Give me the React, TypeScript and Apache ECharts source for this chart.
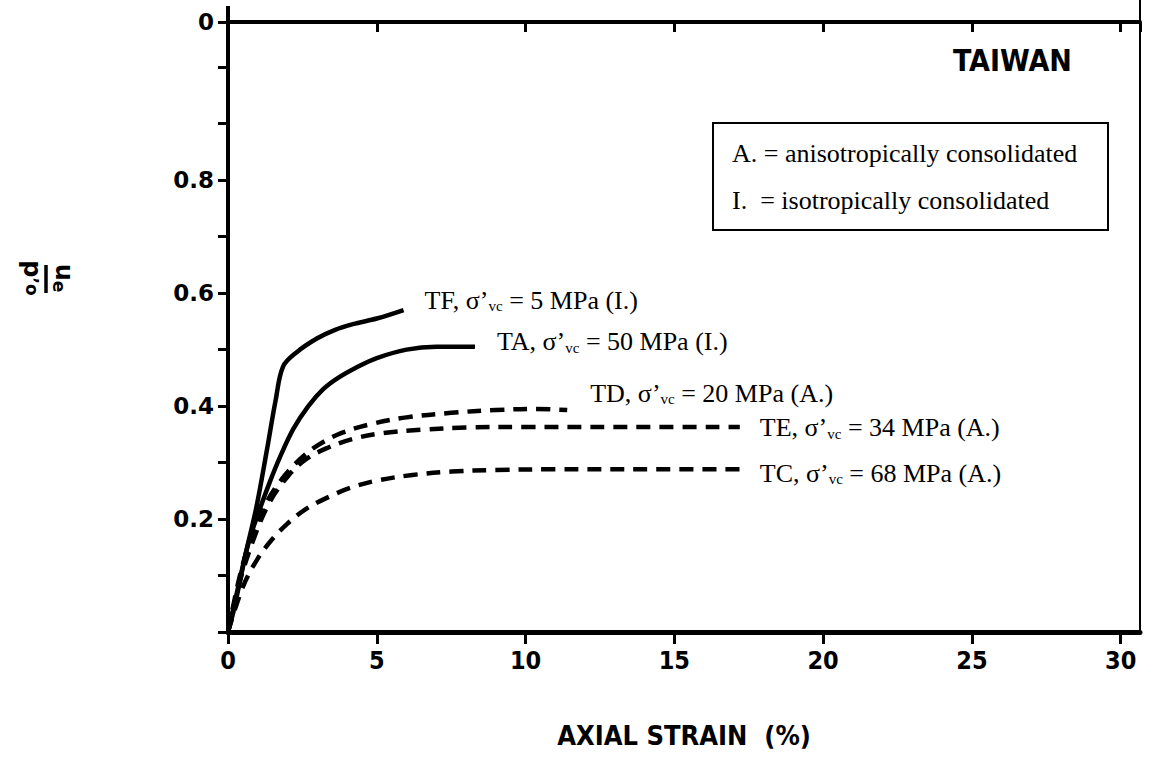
import React, { useEffect, useRef } from "react";
import * as echarts from "echarts";

// Axial strain (%) and normalised excess pore pressure ue/p'o for each test
const tfStrain = [0, 0.2, 0.6, 0.95, 1.3, 1.6, 1.85, 2.3, 3.0, 3.6, 4.2, 5.0, 5.9];
const tfPore = [0, 0.04, 0.14, 0.22, 0.32, 0.41, 0.47, 0.495, 0.52, 0.535, 0.545, 0.555, 0.57];

const taStrain = [0, 0.3, 0.7, 1.05, 1.4, 1.75, 2.2, 2.7, 3.2, 3.7, 4.3, 5.0, 6.0, 7.0, 8.3];
const taPore = [0, 0.07, 0.16, 0.215, 0.265, 0.31, 0.36, 0.4, 0.43, 0.45, 0.468, 0.485, 0.5, 0.505, 0.505];

const tdStrain = [0, 0.4, 0.8, 1.3, 1.8, 2.4, 3.0, 3.8, 4.8, 6.0, 7.5, 9.0, 10.3, 11.4];
const tdPore = [0, 0.1, 0.17, 0.23, 0.27, 0.305, 0.33, 0.352, 0.368, 0.38, 0.388, 0.393, 0.395, 0.393];

const teStrain = [0, 0.4, 0.9, 1.4, 2.0, 2.6, 3.3, 4.2, 5.2, 6.5, 8.0, 10, 13, 17.2];
const tePore = [0, 0.09, 0.17, 0.23, 0.275, 0.305, 0.325, 0.342, 0.352, 0.358, 0.362, 0.363, 0.363, 0.363];

const tcStrain = [0, 0.5, 1.0, 1.5, 2.0, 2.6, 3.3, 4.1, 5.0, 6.2, 7.5, 9.0, 11, 14, 17.2];
const tcPore = [0, 0.08, 0.13, 0.165, 0.192, 0.217, 0.237, 0.255, 0.268, 0.278, 0.284, 0.287, 0.288, 0.288, 0.288];

// Curve labels: [test, stress value, consolidation]
const tfLabel = ["TF", "5", "I."];
const taLabel = ["TA", "50", "I."];
const tdLabel = ["TD", "20", "A."];
const teLabel = ["TE", "34", "A."];
const tcLabel = ["TC", "68", "A."];

// Tick labels
const xTicks = [0, 5, 10, 15, 20, 25, 30];
const yTickLabels: Record<number, string> = { 2: "0.2", 4: "0.4", 6: "0.6", 8: "0.8" };
const topLeftLabel = "0";

const legendLines = ["A. = anisotropically consolidated", "I.  = isotropically consolidated"];
const siteName = "TAIWAN";

const X_MAX = 30.65;
const Y_MAX = 1.08;

const serif = "'Liberation Serif', 'Times New Roman', serif";
const tickFont = "'DejaVu Sans', 'Liberation Sans', sans-serif";
const narrowFont = "'Liberation Sans Narrow', 'DejaVu Sans Condensed', 'Liberation Sans', sans-serif";

function pairs(xs: number[], ys: number[]) {
  return xs.map((x, i) => [x, ys[i]]);
}

function curve(
  info: string[],
  xs: number[],
  ys: number[],
  dashed: boolean,
  offset: [number, number]
) {
  return {
    type: "line",
    name: info[0],
    data: pairs(xs, ys),
    smooth: 0.35,
    showSymbol: false,
    symbol: "none",
    lineStyle: {
      color: "#000",
      width: 4.5,
      type: dashed ? [14, 9] : "solid",
      cap: "butt",
    },
    endLabel: {
      show: true,
      distance: 0,
      offset,
      formatter: () => `${info[0]}, σ’{sub|vc} = ${info[1]} MPa (${info[2]})`,
      color: "#000",
      fontFamily: serif,
      fontSize: 26,
      rich: {
        sub: { fontFamily: serif, fontSize: 15, verticalAlign: "bottom", padding: [12, 0, 0, 0] },
      },
    },
  };
}

export default function App() {
  const ref = useRef<HTMLDivElement>(null);

  useEffect(() => {
    if (!ref.current) return;
    const chart = echarts.init(ref.current, undefined, { renderer: "svg" });

    const option: any = {
      animation: false,
      backgroundColor: "#fff",
      grid: { left: 228, right: 15, top: 22, bottom: 125, containLabel: false },
      xAxis: [
        {
          type: "value",
          min: 0,
          max: X_MAX,
          interval: 5,
          position: "bottom",
          name: "AXIAL STRAIN  (%)",
          nameLocation: "middle",
          nameGap: 90,
          nameTextStyle: { fontFamily: narrowFont, fontWeight: "bold", fontSize: 27, color: "#000" },
          axisLine: { show: true, onZero: false, lineStyle: { color: "#000", width: 5 } },
          axisTick: { show: true, inside: false, length: 12, lineStyle: { color: "#000", width: 3 } },
          axisLabel: {
            margin: 16,
            showMaxLabel: false,
            color: "#000",
            fontFamily: narrowFont,
            fontWeight: "bold",
            fontSize: 25,
            formatter: (v: number) => (xTicks.includes(v) ? String(v) : ""),
          },
          splitLine: { show: false },
        },
        {
          type: "value",
          min: 0,
          max: X_MAX,
          interval: 5,
          position: "top",
          axisLine: { show: true, onZero: false, lineStyle: { color: "#000", width: 4 } },
          axisTick: { show: true, inside: true, length: 10, lineStyle: { color: "#000", width: 3 } },
          axisLabel: { show: false },
          splitLine: { show: false },
        },
      ],
      yAxis: [
        {
          type: "value",
          min: 0,
          max: Y_MAX,
          interval: 0.1,
          position: "left",
          axisLine: { show: true, onZero: false, lineStyle: { color: "#000", width: 4 } },
          axisTick: { show: true, inside: false, length: 10, lineStyle: { color: "#000", width: 3 } },
          axisLabel: {
            margin: 14,
            color: "#000",
            fontFamily: tickFont,
            fontWeight: "bold",
            fontSize: 23,
            formatter: (v: number) => yTickLabels[Math.round(v * 10)] ?? "",
          },
          splitLine: { show: false },
        },
        {
          type: "value",
          min: 0,
          max: Y_MAX,
          position: "right",
          axisLine: { show: true, onZero: false, lineStyle: { color: "#000", width: 2 } },
          axisTick: { show: false },
          axisLabel: { show: false },
          splitLine: { show: false },
        },
      ],
      series: [
        curve(tfLabel, tfStrain, tfPore, false, [21, -10]),
        curve(taLabel, taStrain, taPore, false, [22, -5]),
        curve(tdLabel, tdStrain, tdPore, true, [23, -17]),
        curve(teLabel, teStrain, tePore, true, [20, 1]),
        curve(tcLabel, tcStrain, tcPore, true, [20, 4]),
      ],
      graphic: [
        // frame stubs rising above the top axis
        { type: "line", shape: { x1: 228, y1: 6, x2: 228, y2: 24 }, style: { stroke: "#000", lineWidth: 4 } },
        { type: "line", shape: { x1: 1140, y1: 0, x2: 1140, y2: 24 }, style: { stroke: "#000", lineWidth: 2 } },
        {
          type: "text",
          x: 214,
          y: 22,
          style: {
            text: topLeftLabel,
            align: "right",
            verticalAlign: "middle",
            fontFamily: tickFont,
            fontWeight: "bold",
            fontSize: 23,
            fill: "#000",
          },
        },
        {
          type: "text",
          x: 953,
          y: 60,
          style: {
            text: siteName,
            verticalAlign: "middle",
            fontFamily: narrowFont,
            fontWeight: "bold",
            fontSize: 30,
            fill: "#000",
          },
        },
        {
          type: "rect",
          shape: { x: 713, y: 123, width: 395, height: 107 },
          style: { fill: "#fff", stroke: "#000", lineWidth: 2 },
        },
        {
          type: "text",
          x: 732,
          y: 153,
          style: {
            text: legendLines[0],
            fontFamily: serif,
            fontSize: 26,
            fill: "#000",
            verticalAlign: "middle",
          },
        },
        {
          type: "text",
          x: 732,
          y: 200,
          style: {
            text: legendLines[1],
            fontFamily: serif,
            fontSize: 26,
            fill: "#000",
            verticalAlign: "middle",
          },
        },
        {
          // ue / p'o written as a fraction, turned to read downwards
          type: "group",
          x: 46,
          y: 278,
          rotation: -Math.PI / 2,
          children: [
            {
              type: "text",
              x: 0,
              y: -4,
              style: {
                text: "{m|u}{s|e}",
                align: "center",
                verticalAlign: "bottom",
                fill: "#000",
                rich: {
                  m: { fontFamily: tickFont, fontWeight: "bold", fontSize: 24 },
                  s: { fontFamily: tickFont, fontWeight: "bold", fontSize: 17, padding: [10, 0, 0, 0] },
                },
              },
            },
            {
              type: "line",
              shape: { x1: -13, y1: 0, x2: 15, y2: 0 },
              style: { stroke: "#000", lineWidth: 3.5 },
            },
            {
              type: "text",
              x: 0,
              y: 2,
              style: {
                text: "{m|p}{s|’o}",
                align: "center",
                verticalAlign: "top",
                fill: "#000",
                rich: {
                  m: { fontFamily: tickFont, fontWeight: "bold", fontSize: 24 },
                  s: { fontFamily: tickFont, fontWeight: "bold", fontSize: 17 },
                },
              },
            },
          ],
        },
      ],
    };

    chart.setOption(option);
    return () => chart.dispose();
  }, []);

  return (
    <div
      ref={ref}
      style={{ position: "absolute", left: 0, top: 0, width: 1155, height: 757, background: "#fff" }}
    />
  );
}
